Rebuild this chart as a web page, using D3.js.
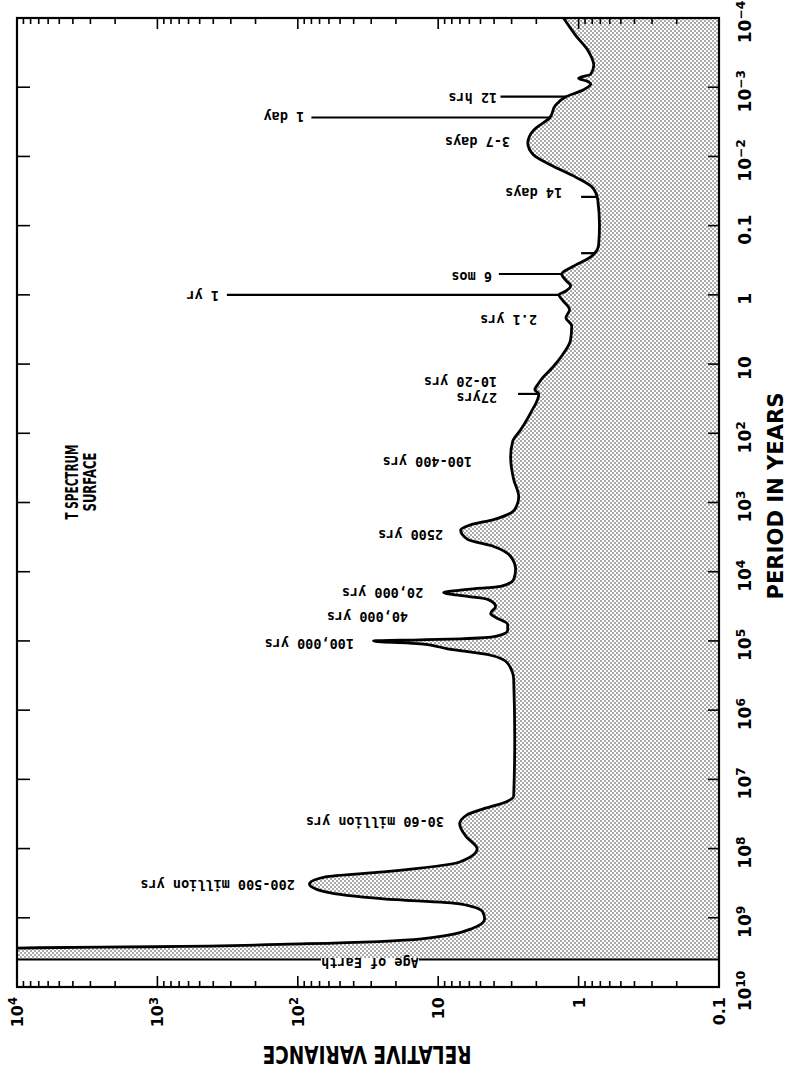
<!DOCTYPE html>
<html>
<head>
<meta charset="utf-8">
<title>T Spectrum, Surface</title>
<script src="https://cdn.jsdelivr.net/npm/d3@7/dist/d3.min.js"></script>
<style>
  html, body { margin: 0; padding: 0; background: #fff; }
  svg { display: block; }
</style>
</head>
<body>
<svg id="chart" width="789" height="1071" xmlns="http://www.w3.org/2000/svg"></svg>
<script>
// Spectrum of surface temperature variance: period in years against relative variance.

// Continuous spectrum, ordered from short to long periods
const periods = [
  1.0e-4, 1.78e-4, 2.92e-4, 4.81e-4, 6.48e-4, 7.41e-4, 8.2e-4, 9.0e-4, 1.1e-3, 1.37e-3,
  1.82e-3, 2.74e-3, 4.17e-3, 6.41e-3, 9.55e-3, 1.33e-2, 1.99e-2, 2.86e-2, 4.26e-2, 9.77e-2,
  0.19, 0.283, 0.39, 0.5, 0.62, 0.74, 0.88, 1.0, 1.22, 1.64,
  2.14, 2.8, 4.46, 7.33, 11.3, 15.7, 19.9, 23.4, 27, 50.3,
  88.5, 132, 217, 466, 820, 1262, 1762, 2100, 2500, 3420,
  4315, 6012, 9262, 12910, 16290, 17990, 20000, 22750, 25120, 31700,
  40000, 45700, 57700, 70400, 85900, 93100, 96500, 1.0e5, 1.1e5, 1.3e5,
  1.61e5, 2.1e5, 3.57e5, 2.62e6, 1.74e7, 2.13e7, 2.69e7, 3.28e7, 4.42e7, 6.58e7,
  1.01e8, 1.56e8, 2.17e8, 2.56e8, 3.24e8, 4.22e8, 5.32e8, 6.28e8, 8.2e8, 1.04e9,
  1.44e9, 2.01e9, 2.37e9, 2.62e9, 2.71e9, 2.78e9
];
const variances = [
  1.28, 1.05, 0.86, 0.78, 0.82, 1.0, 0.87, 0.82, 0.93, 1.23,
  1.46, 1.6, 2.09, 2.30, 2.09, 1.58, 1.05, 0.79, 0.73, 0.71,
  0.72, 0.82, 1.10, 1.32, 1.23, 1.14, 1.23, 1.38, 1.29, 1.16,
  1.23, 1.12, 1.14, 1.30, 1.54, 1.80, 1.96, 2.05, 1.92, 2.19,
  2.58, 2.95, 3.05, 2.90, 2.67, 2.85, 4.03, 5.87, 6.92, 6.17,
  4.03, 3.05, 2.81, 2.90, 3.59, 6.17, 9.15, 6.17, 4.44, 3.90,
  4.23, 3.90, 3.20, 3.20, 3.90, 6.92, 13.4, 28.9, 13.4, 8.57,
  4.23, 3.20, 2.90, 2.85, 2.90, 3.30, 4.82, 6.27, 7.03, 6.38,
  5.28, 7.03, 24.5, 63.5, 82.6, 63.5, 24.5, 7.03, 4.82, 4.67,
  5.78, 13.1, 86.9, 1072, 7080, 15000
];

// Sharp spectral lines rising out of the continuum
const linePeriods = [1.37e-3, 2.74e-3, 0.0384, 0.25, 0.5, 1, 27];
const linePeaks   = [3.6, 80, 0.96, 0.96, 3.7, 320, 2.7];

// Annotations: text, period of the text line, variance where the (inverted) text begins
const noteTexts = [
  "12 hrs", "1 day", "3-7 days", "14 days", "6 mos", "1 yr", "2.1 yrs", "10-20 yrs",
  "27yrs", "100-400 yrs", "2500 yrs", "20,000 yrs", "40,000 yrs", "100,000 yrs",
  "30-60 million yrs", "200-500 million yrs"
];
const notePeriods = [
  1.43e-3, 2.69e-3, 6.2e-3, 0.0338, 0.552, 1.04, 2.31, 18.2,
  31.0, 260, 2950, 20300, 45200, 1.11e5, 4.14e7, 3.37e8
];
const noteVariances = [
  3.81, 90, 3.08, 1.31, 4.14, 364, 1.98, 3.81,
  3.81, 5.74, 9.24, 12.8, 16.4, 39.8, 9.10, 105
];

// Age of the Earth closes the spectrum at long periods
const ageOfEarth = 4.0e9;
const ageLabel = "Age of Earth";
const ageLabelVariance = 30.6;

// Axis ticks
const periodTicks = [1e-4, 1e-3, 1e-2, 0.1, 1, 10, 1e2, 1e3, 1e4, 1e5, 1e6, 1e7, 1e8, 1e9, 1e10];
const periodTickLabels = [
  ["10", "\u22124"], ["10", "\u22123"], ["10", "\u22122"], ["0.1", ""], ["1", ""], ["10", ""],
  ["10", "2"], ["10", "3"], ["10", "4"], ["10", "5"], ["10", "6"], ["10", "7"], ["10", "8"],
  ["10", "9"], ["10", "10"]
];
const varianceTicks = [1e4, 1e3, 1e2, 10, 1, 0.1];
const varianceTickLabels = [["10", "4"], ["10", "3"], ["10", "2"], ["10", ""], ["1", ""], ["0.1", ""]];

const titleLines = ["T SPECTRUM", "SURFACE"];
const periodTitle = "PERIOD IN YEARS";
const varianceTitle = "RELATIVE VARIANCE";

// ---- layout ----
const plot = { left: 17, right: 719, top: 18, bottom: 987 };
const x = d3.scaleLog().domain([1e4, 0.1]).range([plot.left, plot.right]);
const y = d3.scaleLog().domain([1e-4, 1e10]).range([plot.top, plot.bottom]);

const svg = d3.select("#chart");
const defs = svg.append("defs");

defs.append("clipPath").attr("id", "plot-clip")
  .append("rect")
  .attr("x", plot.left).attr("y", plot.top)
  .attr("width", plot.right - plot.left).attr("height", plot.bottom - plot.top);

// stippled shading for the area under the spectrum
const stipple = defs.append("pattern")
  .attr("id", "stipple")
  .attr("patternUnits", "userSpaceOnUse")
  .attr("width", 4).attr("height", 4);
stipple.append("rect").attr("width", 4).attr("height", 4).attr("fill", "#fff");
stipple.append("circle").attr("cx", 1).attr("cy", 1).attr("r", 0.75).attr("fill", "#2a2a2a");
stipple.append("circle").attr("cx", 3).attr("cy", 3).attr("r", 0.75).attr("fill", "#2a2a2a");

const spectrum = periods.map((p, i) => ({ p, v: variances[i] }));
const plotG = svg.append("g").attr("clip-path", "url(#plot-clip)");

// shaded area between the spectrum and the 0.1 edge
const area = d3.area()
  .y(d => y(d.p))
  .x0(x(0.1))
  .x1(d => x(d.v))
  .curve(d3.curveMonotoneY);
plotG.append("path")
  .attr("d", area(spectrum))
  .attr("fill", "url(#stipple)");

// spectrum runs off scale until the age of the Earth
const lastP = periods[periods.length - 1];
plotG.append("rect")
  .attr("x", plot.left).attr("y", y(lastP) - 0.5)
  .attr("width", plot.right - plot.left)
  .attr("height", y(ageOfEarth) - y(lastP) + 0.5)
  .attr("fill", "url(#stipple)");

// age of Earth boundary
plotG.append("line")
  .attr("x1", plot.left).attr("x2", plot.right)
  .attr("y1", y(ageOfEarth)).attr("y2", y(ageOfEarth))
  .attr("stroke", "#000").attr("stroke-width", 2);

// spectrum outline
const line = d3.line()
  .x(d => x(d.v))
  .y(d => y(d.p))
  .curve(d3.curveMonotoneY);
const outline = plotG.append("path")
  .attr("d", line(spectrum))
  .attr("fill", "none")
  .attr("stroke", "#000")
  .attr("stroke-width", 2.8)
  .attr("stroke-linejoin", "round");

// locate the outline at a given period, for the bases of the spectral lines
const node = outline.node();
const total = node.getTotalLength();
const samples = d3.range(0, total, 0.5).map(l => node.getPointAtLength(l));
function outlineXAt(py) {
  let best = samples[0];
  for (const s of samples) if (Math.abs(s.y - py) < Math.abs(best.y - py)) best = s;
  return best.x;
}

linePeriods.forEach((p, i) => {
  const yy = y(p);
  plotG.append("line")
    .attr("x1", x(linePeaks[i])).attr("x2", outlineXAt(yy))
    .attr("y1", yy).attr("y2", yy)
    .attr("stroke", "#000").attr("stroke-width", 2.2);
});

// ---- frame and ticks ----
svg.append("rect")
  .attr("x", plot.left).attr("y", plot.top)
  .attr("width", plot.right - plot.left).attr("height", plot.bottom - plot.top)
  .attr("fill", "none").attr("stroke", "#000").attr("stroke-width", 2.2);

const tickG = svg.append("g").attr("stroke", "#000").attr("stroke-width", 1.6);
x.ticks().forEach(v => {
  const major = Math.abs(Math.log10(v) - Math.round(Math.log10(v))) < 1e-9;
  const len = major ? 11 : 6;
  const xx = x(v);
  tickG.append("line").attr("x1", xx).attr("x2", xx).attr("y1", plot.bottom).attr("y2", plot.bottom - len);
  tickG.append("line").attr("x1", xx).attr("x2", xx).attr("y1", plot.top).attr("y2", plot.top + len);
});
periodTicks.slice(1, -1).forEach(p => {
  const yy = y(p);
  tickG.append("line").attr("x1", plot.left).attr("x2", plot.left + 13).attr("y1", yy).attr("y2", yy);
  tickG.append("line").attr("x1", plot.right).attr("x2", plot.right - 11).attr("y1", yy).attr("y2", yy);
});

// ---- tick labels (rotated to read upward) ----
function powerLabel(g, parts, size) {
  const t = g.append("text")
    .attr("font-family", "'DejaVu Sans', sans-serif")
    .attr("font-weight", "bold")
    .attr("font-size", size)
    .attr("fill", "#000");
  t.append("tspan").text(parts[0]);
  if (parts[1]) {
    t.append("tspan").attr("dy", "-0.5em").attr("font-size", size * 0.72).text(parts[1]);
  }
  return t;
}

periodTicks.forEach((p, i) => {
  const g = svg.append("g").attr("transform", `translate(751,${y(p) + 4}) rotate(-90)`);
  powerLabel(g, periodTickLabels[i], 17).attr("text-anchor", "middle").attr("x", 0).attr("y", 0);
});

varianceTicks.forEach((v, i) => {
  const g = svg.append("g").attr("transform", `translate(${x(v) + 6},997) rotate(-90)`);
  powerLabel(g, varianceTickLabels[i], 16).attr("text-anchor", "end");
});

// ---- axis titles ----
svg.append("text")
  .attr("transform", "translate(783,496) rotate(-90)")
  .attr("text-anchor", "middle")
  .attr("font-family", "'DejaVu Sans', sans-serif")
  .attr("font-weight", "bold")
  .attr("font-size", 22)
  .attr("textLength", 207).attr("lengthAdjust", "spacingAndGlyphs")
  .text(periodTitle);

svg.append("text")
  .attr("transform", "translate(367,1046) rotate(180)")
  .attr("text-anchor", "middle")
  .attr("font-family", "'DejaVu Sans', sans-serif")
  .attr("font-weight", "bold")
  .attr("font-size", 24)
  .attr("textLength", 209).attr("lengthAdjust", "spacingAndGlyphs")
  .text(varianceTitle);

// chart title, rotated
const titleG = svg.append("g").attr("transform", "translate(81,482) rotate(-90)");
titleG.append("text")
  .attr("text-anchor", "middle").attr("y", -3)
  .attr("font-family", "'DejaVu Sans', sans-serif").attr("font-weight", "bold")
  .attr("font-size", 18)
  .attr("textLength", 75).attr("lengthAdjust", "spacingAndGlyphs")
  .text(titleLines[0]);
titleG.append("text")
  .attr("text-anchor", "middle").attr("y", 15)
  .attr("font-family", "'DejaVu Sans', sans-serif").attr("font-weight", "bold")
  .attr("font-size", 18)
  .attr("textLength", 59).attr("lengthAdjust", "spacingAndGlyphs")
  .text(titleLines[1]);

// ---- annotations, printed upside down ----
const noteFont = "'DejaVu Sans Mono', monospace";
noteTexts.forEach((t, i) => {
  svg.append("text")
    .attr("transform", `translate(${x(noteVariances[i])},${y(notePeriods[i])}) rotate(180)`)
    .attr("text-anchor", "start")
    .attr("dominant-baseline", "central")
    .attr("font-family", noteFont)
    .attr("font-weight", "bold")
    .attr("font-size", 13.5)
    .attr("fill", "#000")
    .text(t);
});

// age of Earth label sits in a gap of the boundary line
const ageX = x(ageLabelVariance);
const ageY = y(ageOfEarth);
svg.append("rect")
  .attr("x", ageX - 49).attr("y", ageY - 1.4)
  .attr("width", 98).attr("height", 13)
  .attr("fill", "#fff");
svg.append("text")
  .attr("transform", `translate(${ageX},${ageY - 1}) rotate(180)`)
  .attr("text-anchor", "middle")
  .attr("font-family", noteFont)
  .attr("font-weight", "bold")
  .attr("font-size", 13.5)
  .attr("fill", "#000")
  .text(ageLabel);
</script>
</body>
</html>
